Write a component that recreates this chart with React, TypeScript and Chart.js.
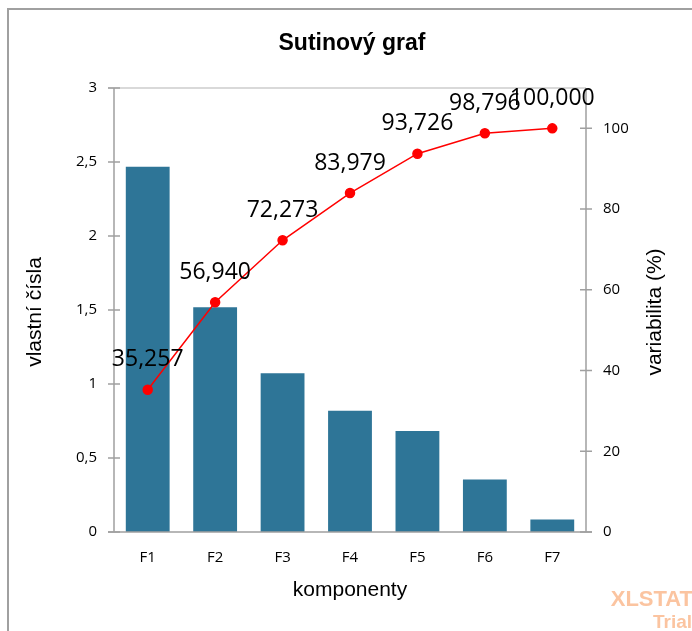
import React, { useEffect, useRef } from "react";
import { Chart, registerables } from "chart.js";

Chart.register(...registerables);

const categories = ["F1", "F2", "F3", "F4", "F5", "F6", "F7"];
const eigenvalues = [2.468, 1.518, 1.073, 0.819, 0.682, 0.355, 0.084];
const cumulativeVariability = [35.257, 56.94, 72.273, 83.979, 93.726, 98.796, 100.0];
const leftTickValues = [0, 0.5, 1, 1.5, 2, 2.5, 3];
const rightTickValues = [0, 20, 40, 60, 80, 100];

const titleText = "Sutinový graf";
const xTitle = "komponenty";
const leftTitle = "vlastní čísla";
const rightTitle = "variabilita (%)";

const fmt = (v: number, d: number) => v.toFixed(d).replace(".", ",");

const W = 692;
const H = 631;
const AXIS = "#a0a0a0";

const decorPlugin = {
  id: "decor",
  beforeDraw(chart: any) {
    const ctx = chart.ctx;
    ctx.save();
    ctx.fillStyle = "#ffffff";
    ctx.fillRect(0, 0, W, H);
    ctx.restore();
  },
  afterDatasetsDraw(chart: any) {
    const ctx = chart.ctx;
    const area = chart.chartArea;
    const y = chart.scales.y;
    const y2 = chart.scales.y2;
    ctx.save();
    // outer frame
    ctx.strokeStyle = AXIS;
    ctx.lineWidth = 2;
    ctx.beginPath();
    ctx.moveTo(8, H);
    ctx.lineTo(8, 9);
    ctx.lineTo(W, 9);
    ctx.stroke();

    // plot top border
    ctx.strokeStyle = "#d9d9d9";
    ctx.lineWidth = 2;
    ctx.beginPath();
    ctx.moveTo(area.left - 6, area.top);
    ctx.lineTo(area.right, area.top);
    ctx.stroke();

    // axes lines
    ctx.strokeStyle = AXIS;
    ctx.lineWidth = 1.5;
    ctx.beginPath();
    ctx.moveTo(area.left, area.top);
    ctx.lineTo(area.left, area.bottom);
    ctx.moveTo(area.right, area.top);
    ctx.lineTo(area.right, area.bottom);
    ctx.moveTo(area.left - 6, area.bottom);
    ctx.lineTo(area.right + 6, area.bottom);
    ctx.stroke();

    // tick marks
    ctx.beginPath();
    leftTickValues.forEach((v) => {
      const py = y.getPixelForValue(v);
      ctx.moveTo(area.left - 6, py);
      ctx.lineTo(area.left + 6, py);
    });
    rightTickValues.forEach((v) => {
      const py = y2.getPixelForValue(v);
      ctx.moveTo(area.right - 6, py);
      ctx.lineTo(area.right + 6, py);
    });
    ctx.stroke();

    // title
    ctx.fillStyle = "#000";
    ctx.textAlign = "center";
    ctx.textBaseline = "middle";
    ctx.font = "bold 23px 'Liberation Sans', Arial, sans-serif";
    ctx.fillText(titleText, 352, 44);

    // axis titles
    ctx.font = "21px 'Liberation Sans', Arial, sans-serif";
    ctx.fillText(xTitle, 350, 590);
    ctx.save();
    ctx.translate(35, 312);
    ctx.rotate(-Math.PI / 2);
    ctx.fillText(leftTitle, 0, 0);
    ctx.restore();
    ctx.save();
    ctx.translate(655, 312);
    ctx.rotate(-Math.PI / 2);
    ctx.fillText(rightTitle, 0, 0);
    ctx.restore();

    // watermark
    ctx.fillStyle = "#fbc4a0";
    ctx.textAlign = "right";
    ctx.textBaseline = "alphabetic";
    ctx.font = "bold 22px 'Liberation Sans', Arial, sans-serif";
    ctx.fillText("XLSTAT", 693, 606);
    ctx.font = "bold 19px 'Liberation Sans', Arial, sans-serif";
    ctx.fillText("Trial", 692, 628);
    ctx.restore();
  },
  afterDraw(chart: any) {
    const ctx = chart.ctx;
    const meta = chart.getDatasetMeta(1);
    ctx.save();
    ctx.fillStyle = "#000";
    ctx.textAlign = "center";
    ctx.textBaseline = "middle";
    ctx.font = "23px 'Open Sans', sans-serif";
    meta.data.forEach((el: any, i: number) => {
      ctx.fillText(fmt(cumulativeVariability[i], 3), el.x, el.y - 30);
    });
    ctx.restore();
  },
};

export default function App() {
  const ref = useRef<HTMLCanvasElement | null>(null);
  useEffect(() => {
    if (!ref.current) return;
    const tickFont = { family: "'Open Sans', sans-serif", size: 15 };
    const chart = new Chart(ref.current, {
      type: "bar",
      data: {
        labels: categories,
        datasets: [
          {
            type: "bar",
            label: "vlastní čísla",
            data: eigenvalues,
            backgroundColor: "#2e7597",
            yAxisID: "y",
            barPercentage: 0.65,
            categoryPercentage: 1,
            order: 1,
          },
          {
            type: "line",
            label: "variabilita (%)",
            data: cumulativeVariability,
            borderColor: "#ff0000",
            backgroundColor: "#ff0000",
            pointBackgroundColor: "#ff0000",
            pointBorderColor: "#ff0000",
            borderWidth: 1.5,
            pointRadius: 4.5,
            yAxisID: "y2",
            order: 0,
          } as any,
        ],
      },
      options: {
        responsive: false,
        animation: false,
        devicePixelRatio: 1,
        layout: { padding: { top: 88, left: 0, right: 0, bottom: 0 } },
        plugins: { legend: { display: false }, tooltip: { enabled: false }, title: { display: false } },
        scales: {
          x: {
            grid: { display: false, drawTicks: false },
            border: { display: false },
            ticks: { padding: 17, color: "#000", font: tickFont },
            afterFit: (s: any) => {
              s.height = 99;
            },
          },
          y: {
            position: "left",
            min: 0,
            max: 3,
            grid: { display: false, drawTicks: false },
            border: { display: false },
            ticks: {
              stepSize: 0.5,
              padding: 17,
              color: "#000",
              font: tickFont,
              callback: (v: any) => fmt(Number(v), Number(v) % 1 === 0 ? 0 : 1),
            },
            afterFit: (s: any) => {
              s.width = 114;
            },
          },
          y2: {
            position: "right",
            min: 0,
            max: 110,
            grid: { display: false, drawTicks: false },
            border: { display: false },
            ticks: { stepSize: 20, padding: 17, color: "#000", font: tickFont },
            afterBuildTicks: (s: any) => {
              s.ticks = rightTickValues.map((v) => ({ value: v }));
            },
            afterFit: (s: any) => {
              s.width = 106;
            },
          } as any,
        },
      },
      plugins: [decorPlugin],
    });
    return () => chart.destroy();
  }, []);
  return (
    <div style={{ position: "fixed", left: 0, top: 0, width: W, height: H }}>
      <canvas ref={ref} width={W} height={H} style={{ width: W, height: H, display: "block" }} />
    </div>
  );
}
